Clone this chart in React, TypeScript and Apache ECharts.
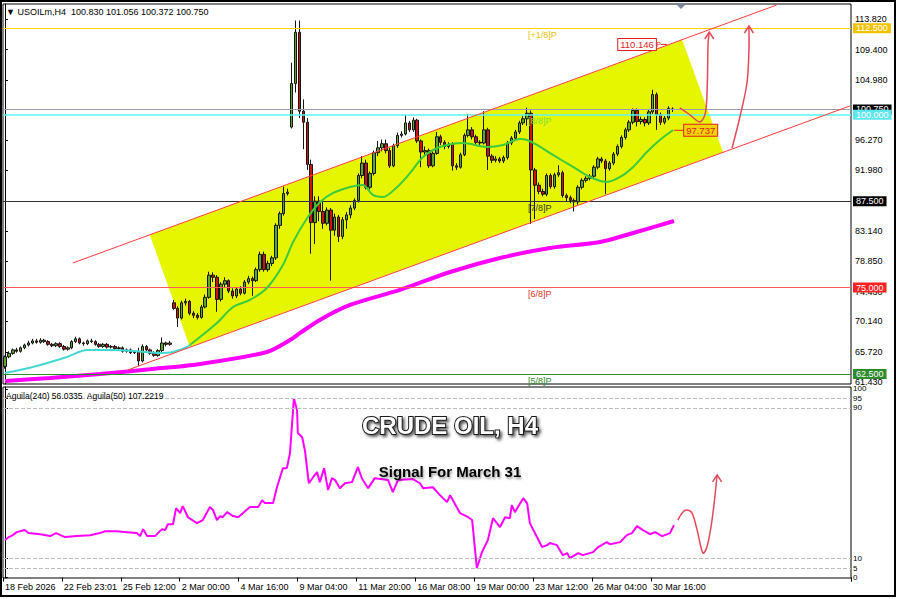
import React, { useEffect, useRef } from 'react';
import * as echarts from 'echarts';

const FONT = '"Liberation Sans", Arial, sans-serif';

// ---------- data ----------
const dateLabels = ['18 Feb 2026', '22 Feb 23:01', '25 Feb 12:00', '2 Mar 00:00', '4 Mar 16:00', '9 Mar 04:00',
  '11 Mar 20:00', '16 Mar 08:00', '19 Mar 00:00', '23 Mar 12:00', '26 Mar 04:00', '30 Mar 16:00'];

// [open, close, low, high]
const candles = [
  [63.6, 65.0, 63.3, 65.2], [65.0, 65.5, 64.8, 65.8], [65.5, 66.0, 65.3, 66.2], [66.0, 65.8, 65.6, 66.3],
  [65.8, 66.3, 65.6, 66.5], [66.3, 66.7, 66.1, 66.9], [66.7, 67.0, 66.5, 67.3], [67.0, 67.3, 66.8, 67.6],
  [67.3, 67.1, 66.9, 67.6], [67.1, 67.4, 66.9, 67.7], [67.4, 67.2, 67.0, 67.6], [67.2, 66.8, 66.6, 67.4],
  [66.8, 66.6, 66.4, 67.0], [66.6, 66.9, 66.4, 67.1], [66.9, 66.5, 66.3, 67.1], [66.5, 66.1, 65.9, 66.7],
  [66.1, 66.3, 65.9, 66.5], [66.3, 67.2, 66.1, 67.4], [67.2, 67.6, 67.0, 67.9], [67.6, 67.0, 66.8, 67.8],
  [67.0, 66.9, 66.6, 67.2], [66.9, 67.3, 66.7, 67.5], [67.3, 67.2, 67.0, 67.6], [67.2, 66.8, 66.6, 67.4],
  [66.8, 66.5, 66.3, 67.0], [66.5, 66.8, 66.3, 67.0], [66.8, 66.4, 66.2, 67.0], [66.4, 66.5, 66.2, 66.7],
  [66.5, 66.2, 66.0, 66.7], [66.2, 66.3, 66.0, 66.5], [66.3, 65.8, 65.6, 66.5], [65.8, 66.0, 65.6, 66.2],
  [66.0, 65.6, 65.4, 66.2], [65.6, 65.7, 65.4, 65.9], [65.7, 64.4, 63.7, 66.3], [64.4, 66.5, 64.2, 66.8],
  [66.5, 66.0, 65.8, 66.7], [66.0, 65.5, 65.3, 66.2], [65.5, 65.2, 65.0, 65.8], [65.2, 65.9, 65.0, 66.1],
  [65.9, 67.0, 65.7, 67.8], [67.0, 66.8, 66.5, 67.2], [66.8, 67.0, 66.6, 67.3], [72.8, 72.0, 71.8, 73.2],
  [72.0, 70.6, 69.3, 72.3], [70.6, 72.8, 70.4, 73.1], [72.8, 73.0, 72.4, 73.4], [73.0, 71.3, 71.0, 73.2],
  [71.3, 71.0, 70.6, 71.6], [71.0, 70.7, 70.4, 71.3], [70.7, 72.2, 70.5, 72.5], [72.2, 73.6, 72.0, 74.0],
  [73.6, 76.8, 73.4, 77.3], [76.8, 76.5, 75.8, 77.2], [76.5, 73.3, 71.5, 76.8], [73.3, 75.5, 73.0, 75.8],
  [75.5, 76.0, 75.0, 76.5], [76.0, 74.5, 74.2, 76.2], [74.5, 73.8, 73.4, 74.9], [73.8, 74.8, 73.5, 75.1],
  [74.8, 74.2, 73.9, 75.2], [74.2, 75.8, 74.0, 76.1], [75.8, 76.3, 75.5, 76.7], [76.3, 76.0, 73.8, 76.6],
  [76.0, 77.6, 75.8, 77.9], [77.6, 79.8, 77.3, 80.2], [79.8, 77.6, 77.3, 80.2], [77.6, 78.5, 77.3, 78.9],
  [78.5, 79.3, 78.1, 79.6], [79.3, 84.0, 79.0, 84.3], [84.0, 85.7, 83.5, 86.0], [85.7, 88.6, 85.4, 89.6],
  [88.6, 88.8, 88.3, 89.3], [98.2, 104.5, 98.0, 107.5], [104.5, 111.9, 103.2, 113.6], [111.9, 100.5, 99.5, 113.6],
  [100.5, 98.9, 95.0, 102.2], [98.9, 92.8, 92.0, 99.5], [92.8, 84.4, 79.9, 93.5], [84.4, 87.5, 81.3, 88.2],
  [87.5, 86.0, 84.6, 88.2], [86.0, 84.3, 83.5, 87.8], [84.3, 86.2, 84.0, 86.6], [86.2, 83.3, 76.0, 86.5],
  [83.3, 85.2, 82.5, 85.7], [85.2, 82.4, 81.6, 85.5], [82.4, 84.8, 82.0, 85.2], [84.8, 85.5, 83.5, 85.9],
  [85.5, 86.5, 85.0, 86.9], [86.5, 87.6, 86.2, 87.9], [87.6, 91.2, 87.3, 91.5], [91.2, 93.0, 90.8, 94.0],
  [93.0, 89.5, 89.2, 93.5], [89.5, 91.5, 89.2, 91.8], [91.5, 94.5, 91.2, 94.8], [94.5, 95.2, 94.0, 96.2],
  [95.2, 95.8, 94.7, 96.4], [95.8, 94.8, 94.4, 96.4], [94.8, 92.6, 92.3, 95.2], [92.6, 95.5, 92.4, 95.8],
  [95.5, 97.0, 95.2, 97.4], [97.0, 97.2, 96.7, 97.6], [97.2, 98.8, 97.0, 100.0], [98.8, 97.8, 97.5, 99.1],
  [97.8, 99.2, 97.5, 99.6], [99.2, 96.2, 95.9, 99.4], [96.2, 94.6, 92.4, 96.4], [94.6, 94.8, 94.2, 95.4],
  [94.8, 92.6, 92.3, 95.1], [92.6, 94.4, 92.4, 94.7], [94.4, 96.8, 94.2, 97.5], [96.8, 96.0, 95.6, 97.1],
  [96.0, 95.4, 95.0, 96.3], [95.4, 95.7, 95.1, 96.0], [95.7, 92.6, 91.9, 96.0], [92.6, 92.4, 92.0, 93.0],
  [92.4, 94.2, 92.2, 94.5], [94.2, 97.0, 94.0, 97.3], [97.0, 97.8, 96.7, 100.1], [97.8, 96.8, 96.4, 98.2],
  [96.8, 96.0, 95.7, 97.1], [96.0, 95.9, 95.6, 96.3], [95.9, 97.8, 95.7, 100.5], [97.8, 94.0, 92.0, 98.1],
  [94.0, 93.4, 93.0, 94.3], [93.4, 93.6, 93.1, 94.0], [93.6, 93.3, 93.0, 93.9], [93.3, 93.8, 93.0, 94.1],
  [93.8, 95.9, 93.5, 96.2], [95.9, 96.6, 95.6, 96.9], [96.6, 97.5, 96.3, 97.8], [97.5, 98.8, 97.2, 99.1],
  [98.8, 99.4, 98.5, 99.8], [99.4, 100.2, 98.4, 101.0], [100.2, 92.0, 84.2, 100.6], [92.0, 89.8, 84.9, 92.3],
  [89.8, 88.9, 88.5, 90.2], [88.9, 88.5, 88.2, 89.3], [88.5, 91.2, 88.2, 91.5], [91.2, 89.6, 89.3, 91.5],
  [89.6, 91.3, 89.3, 91.6], [91.3, 91.6, 91.0, 92.7], [91.6, 88.3, 88.0, 91.9], [88.3, 88.0, 87.5, 88.6],
  [88.0, 87.6, 87.2, 88.3], [87.6, 87.4, 86.0, 87.9], [87.4, 89.5, 87.0, 89.8], [89.5, 90.5, 89.2, 90.8],
  [90.5, 90.8, 90.2, 91.1], [90.8, 91.1, 90.5, 91.4], [91.1, 92.4, 90.8, 92.7], [92.4, 93.6, 92.1, 93.9],
  [93.6, 93.3, 93.0, 93.9], [93.3, 92.2, 88.5, 93.6], [92.2, 93.0, 91.9, 93.3], [93.0, 94.3, 92.7, 94.6],
  [94.3, 95.4, 94.0, 95.7], [95.4, 96.7, 95.1, 97.0], [96.7, 97.8, 96.4, 98.1], [97.8, 98.9, 97.5, 99.2],
  [98.9, 100.6, 98.6, 100.9], [100.6, 99.0, 98.3, 100.9], [99.0, 99.3, 98.6, 99.7], [99.3, 98.8, 98.3, 99.6],
  [98.8, 100.4, 98.5, 100.7], [100.4, 102.9, 100.1, 103.6], [102.9, 100.0, 97.8, 103.2], [100.0, 98.9, 98.5, 100.3],
  [98.9, 99.5, 98.6, 99.8], [99.5, 100.9, 99.2, 101.2], [100.83, 100.75, 100.372, 101.056],
];

// fast moving average: cyan part then green part  [bar index, price]
const maFastCyan = [[0, 62.67], [7.1, 63.53], [15.8, 64.98], [20.9, 65.99], [26.8, 65.99], [32.6, 65.85],
  [38.7, 65.56], [42.8, 65.7], [46.4, 66.42], [47.1, 66.7]];
const maFastGreen = [[47.1, 66.7], [54, 69.89], [58.1, 72.2], [62.4, 73.22], [66.7, 74.95], [70.8, 78.27],
  [73.4, 81.6], [77, 85.07], [80.3, 87.38], [83.6, 88.68], [87.9, 89.55], [91.2, 89.84], [93.7, 88.39],
  [96.3, 88.1], [99.9, 89.55], [103.2, 91.57], [106.5, 93.88], [110.8, 95.33], [116.7, 95.9], [122.8, 95.33],
  [126.9, 95.62], [131.2, 96.48], [133, 96.34], [135.5, 95.62], [139.6, 94.17], [144.7, 92.44], [149, 90.99],
  [153.3, 90.27], [156.7, 90.99], [160, 92.44], [163.5, 94.6], [166.8, 96.34], [170.2, 97.78]];
// slow moving average (magenta)
const maSlow = [[0, 61.51], [11.5, 61.94], [24.2, 62.53], [36.9, 63.2], [49.7, 63.97], [66.7, 65.7],
  [72.6, 67.43], [75.2, 68.45], [80.2, 70.33], [87.9, 72.49], [100.6, 74.66], [113.4, 77.26], [126.1, 79.28],
  [138.8, 80.73], [151.6, 81.6], [160, 82.9], [170.4, 84.63]];

// regression channel [bar index, price]
const channelUpper = [[17.3, 78.56], [196.6, 115.85]];
const channelLower = [[31.3, 63.1], [215.2, 101.25]];
const channelFill = [[36.9, 82.61], [172.5, 110.79], [182.9, 94.6], [47.1, 66.42]];

// Murrey levels
const levelValues = [112.5, 100.75, 100.0, 87.5, 75.0, 62.5];
const levelTags = ['[+1/8]P', '', '[8/8]P', '[7/8]P', '[6/8]P', '[5/8]P'];
const mainTicks = [113.82, 109.4, 104.98, 96.27, 91.98, 83.14, 78.85, 74.43, 70.14, 65.72, 61.43];
const subTicks = [0, 5, 10, 90, 95, 100];
const subLevels = [95, 90, 10, 5];

// indicator (Aguila) [bar index, value]
const aguila = [[0, 19.9], [1, 21.5], [2, 22.5], [3, 24.1], [5, 25.2], [6, 23.6], [9, 23], [11.5, 22], [13, 23.6],
  [15.3, 21.5], [18.3, 22], [21.7, 22.5], [24.2, 23.6], [25.5, 24.6], [28.5, 24.6], [31.1, 24.1], [33.6, 23.6],
  [34.4, 22], [35.2, 25.7], [36.2, 22], [38.2, 22], [40, 25.7], [40.8, 25.2], [41.5, 28.3], [42.8, 28.3],
  [43.6, 36.8], [44.6, 34.2], [45.3, 37.9], [46.6, 32], [48.9, 28.9], [50.4, 30.5], [52.2, 37.4], [53, 35.8],
  [54, 30.5], [54.8, 32.6], [55.4, 32], [56.6, 34.7], [58.1, 32.6], [59.4, 32], [62.4, 37.4], [64.5, 37.4],
  [65.5, 41], [66.2, 39.5], [68.3, 39.5], [69.3, 48], [70.8, 58], [71.8, 58], [72.6, 66], [73.6, 95.1],
  [74.4, 88.7], [74.6, 76.6], [75.7, 74.4], [76.4, 67.5], [77.4, 50], [78.5, 53.2], [79.5, 55.9], [80.2, 50.6],
  [81.3, 58], [82.3, 46.4], [83.3, 52.7], [84.1, 51.7], [85.3, 47.4], [86.6, 50], [88.4, 50.6], [89.9, 58.5],
  [90.9, 52.7], [92.5, 47.4], [94.2, 52.7], [97.6, 51.7], [98.8, 45.3], [100.1, 51.7], [103.9, 52.2],
  [105.7, 50], [106.5, 47.4], [109, 47.9], [110.8, 43.7], [112.6, 40], [113.4, 43.7], [115.9, 34.2], [118, 32],
  [119, 30.5], [120.2, 5], [121.5, 13.5], [123, 19.9], [124.3, 31.5], [126.1, 26.8], [127.4, 32], [128.6, 31.5],
  [129.1, 38.4], [129.9, 34.7], [132, 42.1], [133, 39.5], [133.7, 28.9], [135.5, 21.5], [136.8, 16.2],
  [138.1, 17.2], [138.8, 18.3], [140.6, 17.2], [142.1, 11.9], [143.2, 13], [143.9, 10.3], [146, 13],
  [147.2, 11.9], [149.8, 13.5], [151.1, 16.2], [153.3, 18.8], [154.1, 17.7], [156.7, 18.8], [158.4, 22.5],
  [159.7, 23.6], [161, 27.3], [162.5, 25.2], [164.3, 23], [165.6, 24.1], [167.4, 22], [169.4, 23.6], [170.4, 27.8]];

// hand-drawn forecast arrows [bar index, value]
const arrowMainA = [[171.9, 100.96], [174.5, 99.95], [177.0, 98.94], [178.4, 100.24], [178.9, 104.57], [179.1, 110.35], [179.4, 111.94]];
const arrowMainB = [[185.2, 95.18], [187.2, 99.66], [189.0, 104.57], [189.5, 109.34], [189.5, 112.81]];
const arrowSub = [[171.4, 30.5], [172.7, 34.8], [173.7, 35.8], [175.0, 34.2], [176.3, 25.2], [177.8, 13.0], [178.8, 16.2], [180.1, 30.5], [181.4, 54.4]];

// price tags on the drawing
const channelTag = { index: 168.6, value: 110.146 };
const maTag = { index: 170.2, value: 97.737 };

const SLOTS = 216;
const STEP = 15;

const levelStyle = [
  { line: '#FFD200', tagBg: '#F2C200', tag: '#E8C000', w: 1 },
  { line: '#9A9CB0', tagBg: '#000000', tag: '#000', w: 1 },
  { line: '#5FF3F3', tagBg: '#5EE6F0', tag: '#7EE03A', w: 1.5 },
  { line: '#333333', tagBg: '#000000', tag: '#333', w: 1 },
  { line: '#FF5A5A', tagBg: '#FF2020', tag: '#E03030', w: 1 },
  { line: '#2E8B2E', tagBg: '#2E8B2E', tag: '#2E8B2E', w: 1 },
];

const ARROW = '#E24A5A';

function arrowSeries(path: number[][], xi: number, yi: number) {
  return {
    type: 'custom',
    xAxisIndex: xi,
    yAxisIndex: yi,
    silent: true,
    z: 9,
    data: [path[path.length - 1]],
    renderItem: (_p: any, api: any) => {
      const pts = path.map((p) => api.coord(p));
      const tip = pts[pts.length - 1];
      return {
        type: 'group',
        children: [
          { type: 'polyline', shape: { points: pts, smooth: 0.35 }, style: { stroke: ARROW, lineWidth: 1.5, fill: 'none' } },
          {
            type: 'polyline',
            shape: { points: [[tip[0] - 4.5, tip[1] + 7], [tip[0], tip[1]], [tip[0] + 4.5, tip[1] + 7]] },
            style: { stroke: ARROW, lineWidth: 1.5, fill: 'none' },
          },
        ],
      };
    },
  };
}

export default function App() {
  const ref = useRef<HTMLDivElement>(null);

  useEffect(() => {
    document.body.style.margin = '0';
    const chart = echarts.init(ref.current as HTMLDivElement, undefined, { renderer: 'svg' });
    const cats = Array.from({ length: SLOTS }, (_, i) => String(i));
    const showIdx = (i: number) => i % STEP === 0 && i / STEP < dateLabels.length;

    const option: any = {
      animation: false,
      backgroundColor: '#ffffff',
      grid: [
        { left: 3, top: 4, width: 848, height: 380, show: true, borderColor: '#000', borderWidth: 1, backgroundColor: 'transparent' },
        { left: 3, top: 387, width: 848, height: 191, show: true, borderColor: '#000', borderWidth: 1, backgroundColor: 'transparent' },
      ],
      xAxis: [
        { type: 'category', gridIndex: 0, data: cats, boundaryGap: true, show: false },
        { type: 'value', gridIndex: 0, min: -0.5, max: SLOTS - 0.5, show: false },
        {
          type: 'category', gridIndex: 1, data: cats, boundaryGap: true,
          axisLine: { show: false },
          axisTick: { show: true, interval: (i: number) => showIdx(i), length: 4, lineStyle: { color: '#000' } },
          axisLabel: {
            interval: (i: number) => showIdx(i),
            formatter: (_v: string, i: number) => (showIdx(i) ? dateLabels[i / STEP] : ''),
            align: 'left', fontSize: 9, color: '#000', margin: 4, fontFamily: FONT,
          },
          splitLine: { show: false },
        },
        { type: 'value', gridIndex: 1, min: -0.5, max: SLOTS - 0.5, show: false },
      ],
      yAxis: [
        {
          type: 'value', gridIndex: 0, position: 'right', min: 61.07, max: 115.99,
          axisLine: { show: true, lineStyle: { color: '#000' } },
          axisTick: { show: true, customValues: mainTicks, length: 3, lineStyle: { color: '#000' } },
          axisLabel: { customValues: mainTicks, formatter: (v: number) => v.toFixed(3), fontSize: 9, color: '#000', margin: 4, fontFamily: FONT },
          splitLine: { show: false },
        },
        {
          type: 'value', gridIndex: 1, position: 'right', min: -0.2, max: 101,
          axisLine: { show: true, lineStyle: { color: '#000' } },
          axisTick: { show: true, customValues: subTicks, length: 3, lineStyle: { color: '#000' } },
          axisLabel: { customValues: subTicks, formatter: (v: number) => String(v), fontSize: 8, color: '#000', margin: 2, fontFamily: FONT },
          splitLine: { show: false },
        },
      ],
      series: [
        {
          type: 'custom', xAxisIndex: 1, yAxisIndex: 0, silent: true, z: 1,
          data: [channelFill[0]],
          renderItem: (_p: any, api: any) => ({
            type: 'polygon',
            shape: { points: channelFill.map((p) => api.coord(p)) },
            style: { fill: '#E6F500', stroke: 'none' },
          }),
        },
        {
          type: 'candlestick', xAxisIndex: 0, yAxisIndex: 0, z: 4, barWidth: 3,
          data: candles,
          itemStyle: { color: '#5DA62A', color0: '#C81414', borderColor: '#151515', borderColor0: '#151515', borderWidth: 1 },
          markLine: {
            silent: true, symbol: ['none', 'none'], animation: false,
            data: levelValues.map((v, i) => ({
              yAxis: v,
              lineStyle: { color: levelStyle[i].line, width: levelStyle[i].w, type: 'solid' },
              label: {
                show: true, position: 'end', distance: 2, formatter: v.toFixed(3),
                backgroundColor: levelStyle[i].tagBg, color: '#fff', padding: [1, 3, 0, 3],
                fontSize: 9, fontFamily: FONT,
              },
            })),
          },
        },
        {
          type: 'line', xAxisIndex: 1, yAxisIndex: 0, data: maSlow, smooth: 0.3, symbol: 'none', z: 3,
          lineStyle: { color: '#FF00FF', width: 4 }, silent: true,
        },
        {
          type: 'line', xAxisIndex: 1, yAxisIndex: 0, data: maFastCyan, smooth: 0.3, symbol: 'none', z: 5,
          lineStyle: { color: '#45D8D0', width: 2 }, silent: true,
        },
        {
          type: 'line', xAxisIndex: 1, yAxisIndex: 0, data: maFastGreen, smooth: 0.3, symbol: 'none', z: 5,
          lineStyle: { color: '#3CCB3C', width: 2 }, silent: true,
        },
        {
          type: 'line', xAxisIndex: 1, yAxisIndex: 0, data: channelUpper, symbol: 'none', z: 5,
          lineStyle: { color: '#FF3B3B', width: 1 }, silent: true,
        },
        {
          type: 'line', xAxisIndex: 1, yAxisIndex: 0, data: channelLower, symbol: 'none', z: 5,
          lineStyle: { color: '#FF3B3B', width: 1 }, silent: true,
        },
        {
          type: 'custom', xAxisIndex: 1, yAxisIndex: 0, silent: true, z: 6,
          data: levelValues.map((v) => [133.2, v]),
          renderItem: (p: any, api: any) => {
            const i = p.dataIndex;
            if (!levelTags[i]) return null;
            const pt = api.coord([133.2, levelValues[i]]);
            return {
              type: 'text', x: pt[0], y: pt[1] + 2,
              style: { text: levelTags[i], fill: levelStyle[i].tag, fontSize: 9, fontFamily: FONT, align: 'left', verticalAlign: 'top' },
            };
          },
        },
        {
          type: 'custom', xAxisIndex: 1, yAxisIndex: 0, silent: true, z: 7,
          data: [[channelTag.index, channelTag.value]],
          renderItem: (_p: any, api: any) => {
            const pt = api.coord([channelTag.index, channelTag.value]);
            return {
              type: 'group',
              children: [
                { type: 'line', shape: { x1: pt[0] - 6, y1: pt[1], x2: pt[0], y2: pt[1] }, style: { stroke: '#E02020', lineWidth: 1 } },
                {
                  type: 'text', x: pt[0] - 11, y: pt[1],
                  style: {
                    text: channelTag.value.toFixed(3), fill: '#E02020', fontSize: 9.5, fontFamily: FONT, align: 'right', verticalAlign: 'middle',
                    backgroundColor: '#fff', borderColor: '#E02020', borderWidth: 1, padding: [1, 2, 0, 2],
                  },
                },
                { type: 'text', x: pt[0] - 10.5, y: pt[1], style: { text: 'P', fill: '#E02020', fontSize: 7, fontFamily: FONT, align: 'left', verticalAlign: 'middle' } },
              ],
            };
          },
        },
        {
          type: 'custom', xAxisIndex: 1, yAxisIndex: 0, silent: true, z: 7,
          data: [[maTag.index, maTag.value]],
          renderItem: (_p: any, api: any) => {
            const pt = api.coord([maTag.index, maTag.value]);
            return {
              type: 'group',
              children: [
                { type: 'line', shape: { x1: pt[0] + 1, y1: pt[1], x2: pt[0] + 11, y2: pt[1] }, style: { stroke: '#E02020', lineWidth: 1 } },
                {
                  type: 'text', x: pt[0] + 11, y: pt[1],
                  style: {
                    text: maTag.value.toFixed(3), fill: '#E02020', fontSize: 9.5, fontFamily: FONT, align: 'left', verticalAlign: 'middle',
                    backgroundColor: '#F2D200', borderColor: '#E02020', borderWidth: 1, padding: [1, 2, 0, 2],
                  },
                },
              ],
            };
          },
        },
        arrowSeries(arrowMainA, 1, 0),
        arrowSeries(arrowMainB, 1, 0),
        {
          type: 'line', xAxisIndex: 3, yAxisIndex: 1, data: aguila, symbol: 'none', z: 4,
          lineStyle: { color: '#FF00FF', width: 2 }, silent: true,
          markLine: {
            silent: true, symbol: ['none', 'none'], animation: false,
            label: { show: false },
            lineStyle: { color: '#BDBDBD', type: 'dashed', width: 1 },
            data: subLevels.map((v) => ({ yAxis: v })),
          },
        },
        arrowSeries(arrowSub, 3, 1),
      ],
      graphic: [
        { type: 'rect', silent: true, z: 100, shape: { x: 1, y: 1, width: 894, height: 595 }, style: { fill: 'none', stroke: '#000', lineWidth: 2 } },
        { type: 'polygon', silent: true, z: 100, shape: { points: [[675, 3], [687, 3], [681, 9]] }, style: { fill: '#7A8496' } },
        {
          type: 'text', silent: true, z: 100, x: 6, y: 12,
          style: { text: '\u25BC USOILm,H4  100.830 101.056 100.372 100.750', fill: '#000', fontSize: 9, fontFamily: FONT, verticalAlign: 'middle' },
        },
        {
          type: 'text', silent: true, z: 100, x: 6, y: 396,
          style: { text: 'Aguila(240) 56.0335  Aguila(50) 107.2219', fill: '#000', fontSize: 8.5, fontFamily: FONT, verticalAlign: 'middle' },
        },
        {
          type: 'text', silent: true, z: 101, x: 450, y: 425,
          style: {
            text: 'CRUDE OIL, H4', fill: '#ffffff', stroke: '#1a1a1a', lineWidth: 2, fontSize: 24, fontWeight: 'bold', fontFamily: FONT,
            align: 'center', verticalAlign: 'middle',
            textShadowColor: 'rgba(0,0,0,0.65)', textShadowBlur: 3, textShadowOffsetX: 2, textShadowOffsetY: 2,
          },
        },
        {
          type: 'text', silent: true, z: 101, x: 450, y: 471,
          style: {
            text: 'Signal For March 31', fill: '#000', fontSize: 15, fontWeight: 'bold', fontFamily: FONT, align: 'center', verticalAlign: 'middle',
            textShadowColor: 'rgba(0,0,0,0.4)', textShadowBlur: 2, textShadowOffsetX: 1, textShadowOffsetY: 2,
          },
        },
      ],
    };

    chart.setOption(option);
    return () => chart.dispose();
  }, []);

  return <div ref={ref} style={{ width: 900, height: 599 }} />;
}
